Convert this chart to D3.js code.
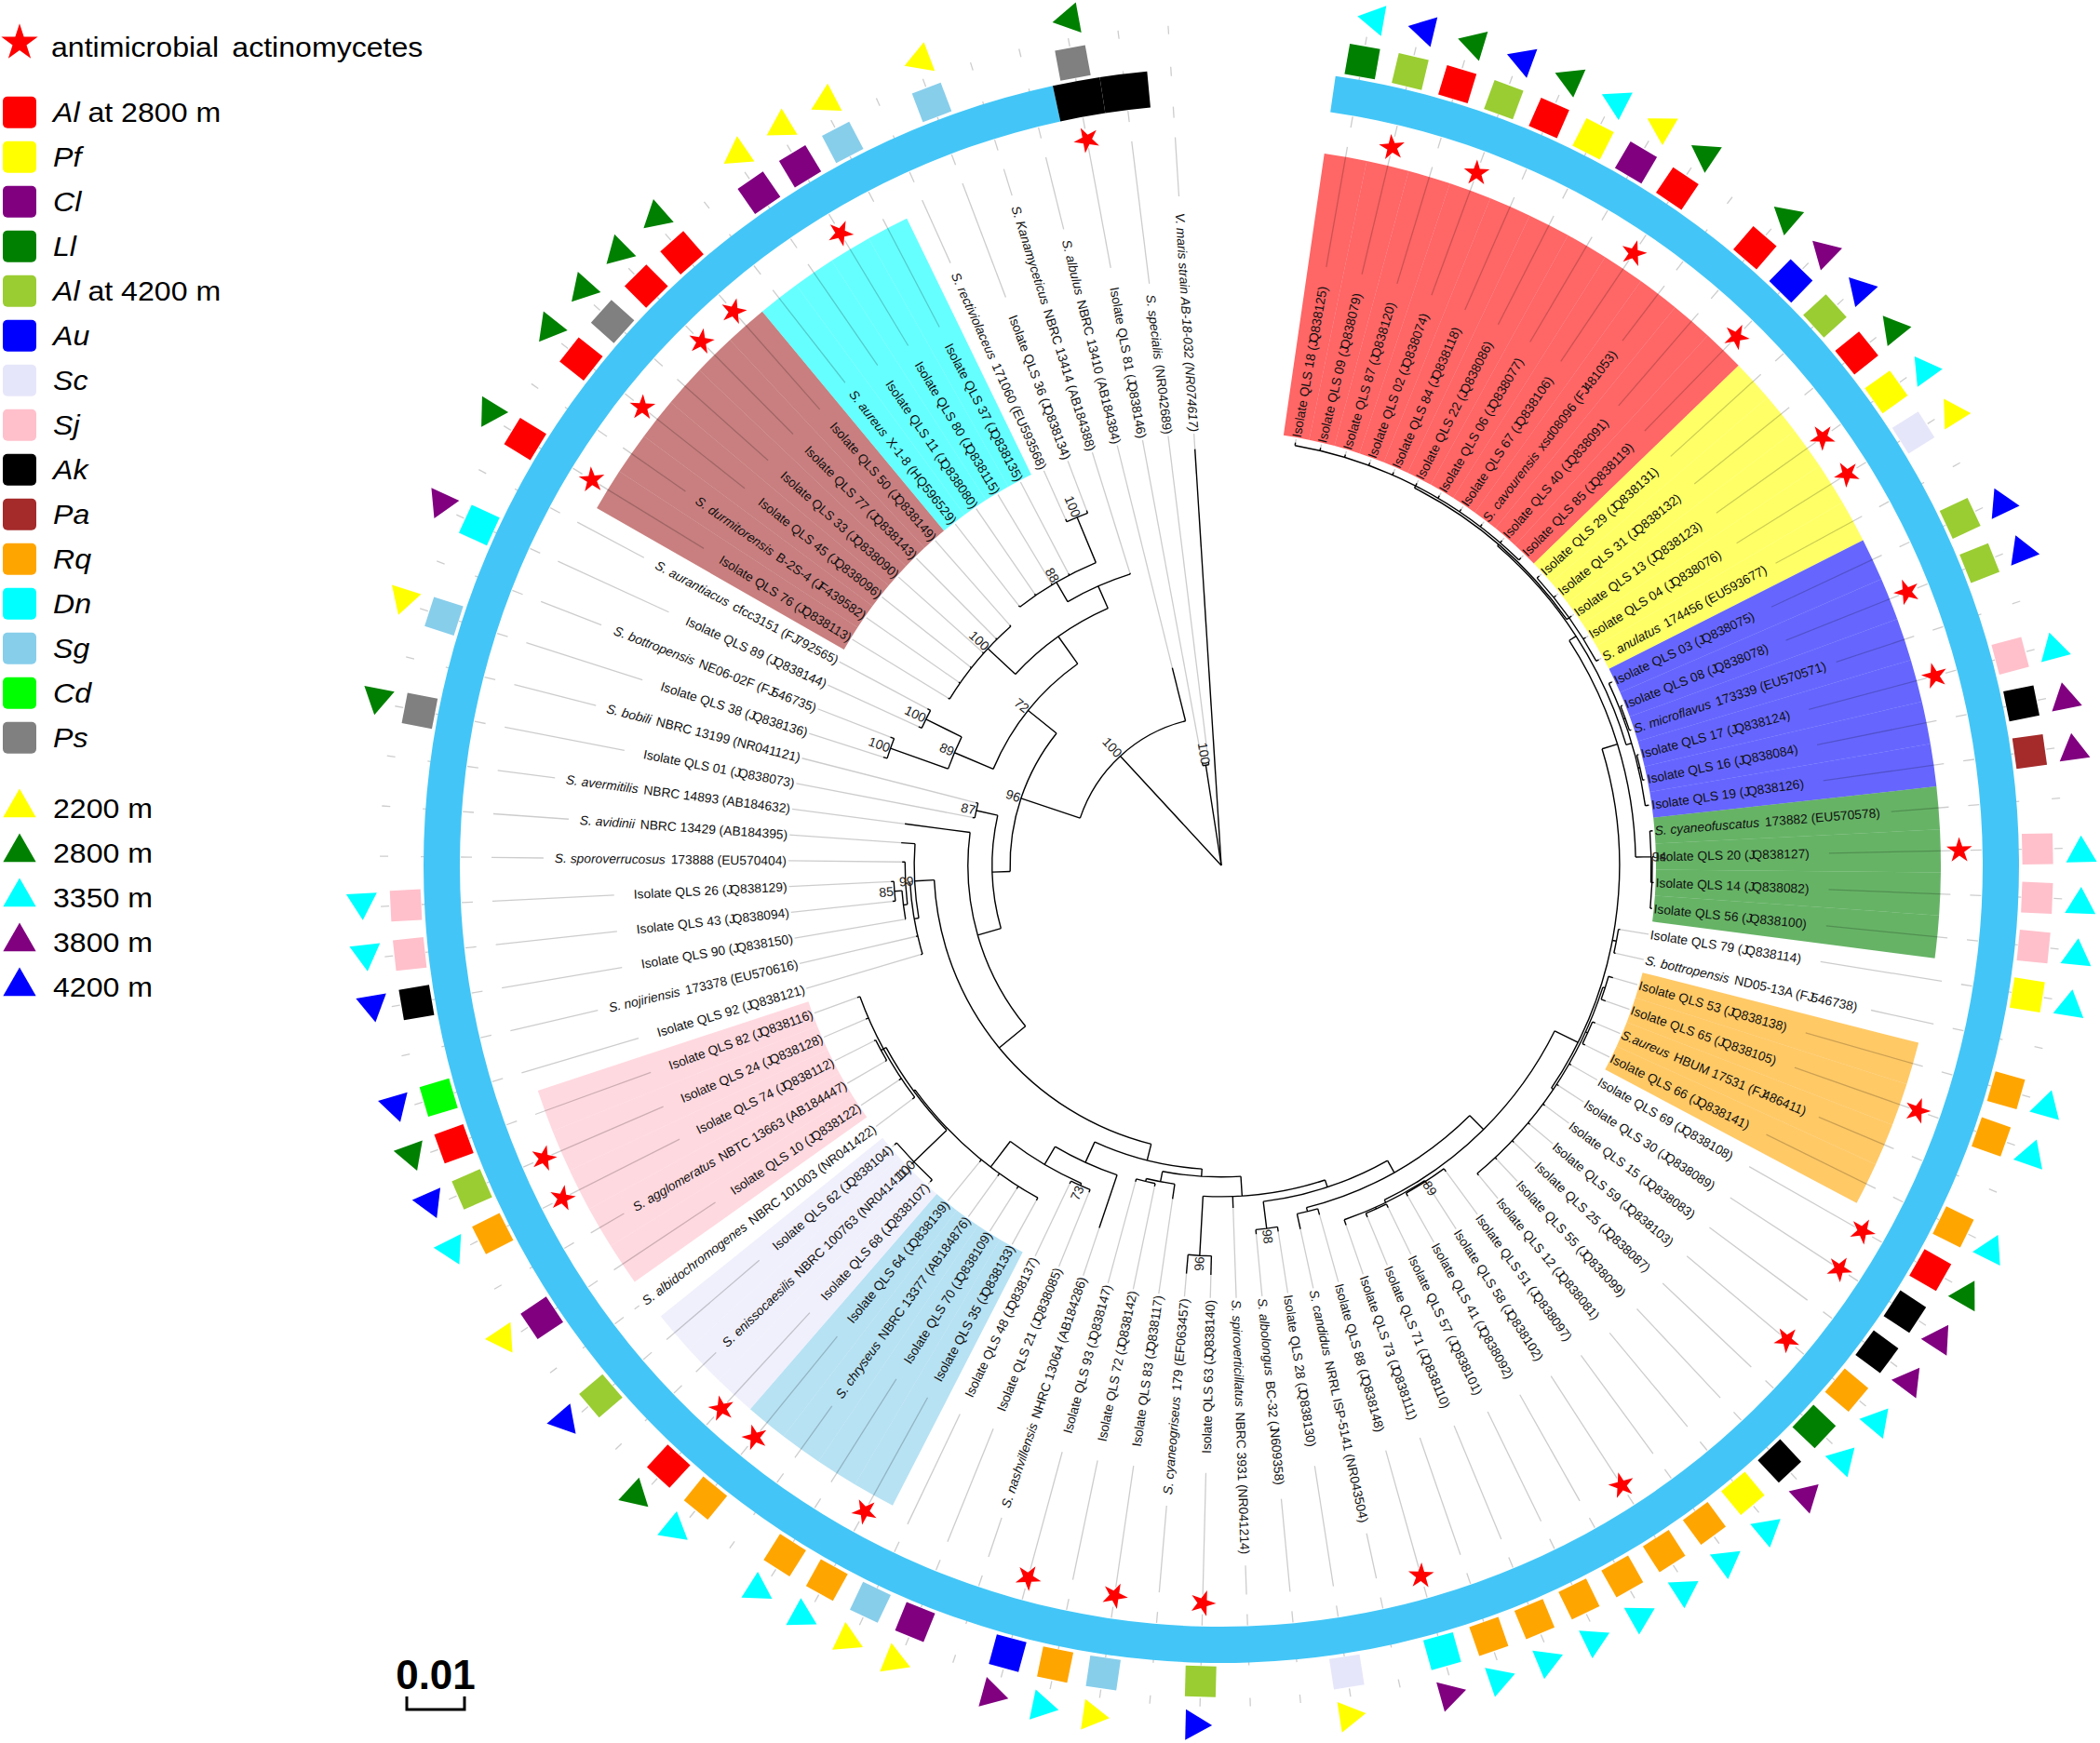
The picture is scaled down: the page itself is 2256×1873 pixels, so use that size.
<!DOCTYPE html>
<html>
<head>
<meta charset="utf-8">
<script src="https://cdn.jsdelivr.net/npm/d3@7"></script>
<style>
  html, body { margin: 0; padding: 0; background: #fff; }
  text { font-family: "Liberation Sans", Arial, sans-serif; }
</style>
</head>
<body>
<script>
// leaves run clockwise from the gap at the top, "|" splits italic part from the rest
const leafNames = [
  "Isolate QLS 18 (JQ838125)", "Isolate QLS 09 (JQ838079)", "Isolate QLS 87 (JQ838120)", "Isolate QLS 02 (JQ838074)",
  "Isolate QLS 84 (JQ838118)", "Isolate QLS 22 (JQ838086)", "Isolate QLS 06 (JQ838077)", "Isolate QLS 67 (JQ838106)",
  "S. cavourensis|xsd08096 (FJ481053)", "Isolate QLS 40 (JQ838091)", "Isolate QLS 85 (JQ838119)",
  "Isolate QLS 29 (JQ838131)", "Isolate QLS 31 (JQ838132)", "Isolate QLS 13 (JQ838123)", "Isolate QLS 04 (JQ838076)",
  "S. anulatus|174456 (EU593677)",
  "Isolate QLS 03 (JQ838075)", "Isolate QLS 08 (JQ838078)", "S. microflavus|173339 (EU570571)",
  "Isolate QLS 17 (JQ838124)", "Isolate QLS 16 (JQ838084)", "Isolate QLS 19 (JQ838126)",
  "S. cyaneofuscatus|173882 (EU570578)", "Isolate QLS 20 (JQ838127)", "Isolate QLS 14 (JQ838082)", "Isolate QLS 56 (JQ838100)",
  "Isolate QLS 79 (JQ838114)", "S. bottropensis|ND05-13A (FJ546738)",
  "Isolate QLS 53 (JQ838138)", "Isolate QLS 65 (JQ838105)", "S.aureus|HBUM 17531 (FJ486411)", "Isolate QLS 66 (JQ838141)",
  "Isolate QLS 69 (JQ838108)", "Isolate QLS 30 (JQ838089)", "Isolate QLS 15 (JQ838083)", "Isolate QLS 59 (JQ838103)",
  "Isolate QLS 25 (JQ838087)", "Isolate QLS 55 (JQ838099)", "Isolate QLS 12 (JQ838081)", "Isolate QLS 51 (JQ838097)",
  "Isolate QLS 58 (JQ838102)", "Isolate QLS 41 (JQ838092)", "Isolate QLS 57 (JQ838101)", "Isolate QLS 71 (JQ838110)",
  "Isolate QLS 73 (JQ838111)", "Isolate QLS 88 (JQ838148)", "S. candidus|NRRL ISP-5141 (NR043504)", "Isolate QLS 28 (JQ838130)",
  "S. albolongus|BC-32 (JN609358)", "S. spiroverticillatus|NBRC 3931 (NR041214)", "Isolate QLS 63 (JQ838140)",
  "S. cyaneogriseus|179 (EF063457)", "Isolate QLS 83 (JQ838117)", "Isolate QLS 72 (JQ838142)", "Isolate QLS 93 (JQ838147)",
  "S. nashvillensis|NHRC 13064 (AB184286)", "Isolate QLS 21 (JQ838085)", "Isolate QLS 48 (JQ838137)",
  "Isolate QLS 35 (JQ838133)", "Isolate QLS 70 (JQ838109)", "S. chryseus|NBRC 13377 (AB184876)", "Isolate QLS 64 (JQ838139)",
  "Isolate QLS 68 (JQ838107)", "S. enissocaesilis|NBRC 100763 (NR041411)", "Isolate QLS 62 (JQ838104)",
  "S. albidochromogenes|NBRC 101003 (NR041422)",
  "Isolate QLS 10 (JQ838122)", "S. agglomeratus|NBTC 13663 (AB184447)", "Isolate QLS 74 (JQ838112)",
  "Isolate QLS 24 (JQ838128)", "Isolate QLS 82 (JQ838116)",
  "Isolate QLS 92 (JQ838121)", "S. nojiriensis|173378 (EU570616)", "Isolate QLS 90 (JQ838150)", "Isolate QLS 43 (JQ838094)",
  "Isolate QLS 26 (JQ838129)", "S. sporoverrucosus|173888 (EU570404)", "S. avidinii|NBRC 13429 (AB184395)",
  "S. avermitilis|NBRC 14893 (AB184632)", "Isolate QLS 01 (JQ838073)", "S. bobili|NBRC 13199 (NR041121)",
  "Isolate QLS 38 (JQ838136)", "S. bottropensis|NE06-02F (FJ546735)", "Isolate QLS 89 (JQ838144)", "S. aurantiacus|cfcc3151 (FJ792565)",
  "Isolate QLS 76 (JQ838113)", "S. durmitorensis|B-2S-4 (JF439582)", "Isolate QLS 45 (JQ838096)", "Isolate QLS 33 (JQ838090)",
  "Isolate QLS 77 (JQ838143)", "Isolate QLS 50 (JQ838149)",
  "S. aureus|X-1-8 (HQ596529)", "Isolate QLS 11 (JQ838080)", "Isolate QLS 80 (JQ838115)", "Isolate QLS 37 (JQ838135)",
  "S. rectiviolaceus|171060 (EU593568)", "Isolate QLS 36 (JQ838134)", "S. Kanamyceticus|NBRC 13414 (AB184388)",
  "S. albulus|NBRC 13410 (AB184384)", "Isolate QLS 81 (JQ838146)", "S. specialis|(NR042689)", "V. maris strain AB-18-032 (NR074617)|"
];

const hostCodes = ["Al2", "Pf", "Cl", "Ll", "Al4", "Au", "Sc", "Sj", "Ak", "Pa", "Rq", "Dn", "Sg", "Cd", "Ps"];
const hostColors = ["#ff0000", "#ffff00", "#800080", "#008000", "#9acd32", "#0000ff", "#e6e6fa", "#ffc0cb",
  "#000000", "#a52a2a", "#ffa500", "#00ffff", "#87ceeb", "#00ff00", "#808080"];
const hostItalic = ["Al", "Pf", "Cl", "Ll", "Al", "Au", "Sc", "Sj", "Ak", "Pa", "Rq", "Dn", "Sg", "Cd", "Ps"];
const hostSuffix = [" at 2800 m", "", "", "", " at 4200 m", "", "", "", "", "", "", "", "", "", ""];

const altitudes = [2200, 2800, 3350, 3800, 4200];
const altitudeColors = ["#ffff00", "#008000", "#00ffff", "#800080", "#0000ff"];

// host plant per leaf, ten to a row
const leafHost = [
  "Ll", "Al4", "Al2", "Al4", "Al2", "Pf", "Cl", "Al2", "", "Al2",
  "Au", "Al4", "Al2", "Pf", "Sc", "", "Al4", "Al4", "", "Sj",
  "Ak", "Pa", "", "Sj", "Sj", "Sj", "Pf", "", "Rq", "Rq",
  "", "Rq", "Al2", "Ak", "Ak", "Rq", "Ll", "Ak", "Pf", "Rq",
  "Rq", "Rq", "Rq", "Rq", "Rq", "Dn", "", "Sc", "", "",
  "Al4", "", "Sg", "Rq", "Au", "", "Cl", "Sg", "Rq", "Rq",
  "", "Rq", "Al2", "", "Al4", "", "Cl", "", "Rq", "Al4",
  "Al2", "Cd", "", "Ak", "Sj", "Sj", "", "", "", "Ps",
  "", "Sg", "", "Dn", "", "Al2", "", "Al2", "Ps", "Al2",
  "Al2", "", "Cl", "Cl", "Sg", "", "Sg", "", "", "Ps",
  "", ""
];

// sampling altitude per leaf, 0 = none
const leafAltitude = [
  3350, 4200, 2800, 4200, 2800, 3350, 2200, 2800, 0, 2800,
  3800, 4200, 2800, 3350, 2200, 0, 4200, 4200, 0, 3350,
  3800, 3800, 0, 3350, 3350, 3350, 3350, 0, 3350, 3350,
  0, 3350, 2800, 3800, 3800, 3350, 3350, 3800, 3350, 3350,
  3350, 3350, 3350, 3350, 3350, 3800, 0, 2200, 0, 0,
  4200, 0, 2200, 3350, 3800, 0, 2200, 2200, 3350, 3350,
  0, 3350, 2800, 0, 4200, 0, 2200, 0, 3350, 4200,
  2800, 4200, 0, 4200, 3350, 3350, 0, 0, 0, 2800,
  0, 2200, 0, 3800, 0, 2800, 0, 2800, 2800, 2800,
  2800, 0, 2200, 2200, 2200, 0, 2200, 0, 0, 2800,
  0, 0
];

const antimicrobial = [2, 4, 8, 11, 14, 15, 18, 20, 24, 30, 33, 34, 36, 41, 46, 51, 53, 55, 59, 62, 63,
  69, 70, 86, 88, 90, 91, 94, 100];

// coloured clade backgrounds
const cladeFirst = [1, 12, 17, 23, 29, 59, 63, 67, 86, 92];
const cladeLast = [11, 16, 22, 26, 32, 62, 65, 71, 91, 95];
const cladeColor = ["#ff0000", "#ffff00", "#0000ff", "#008000", "#ffa500", "#87ceeb", "#e6e6fa", "#ffc0cb", "#a52a2a", "#00ffff"];

// ring is blue up to leaf 99, then one black cell each for leaves 100 and 101
const ringBlueLast = 99;
const ringBlackLeaves = [100, 101];

// tree: dist is the distance from the root in substitutions per site
const tip = (n, dist) => ({ leaf: n, dist });
const tips = (dist, ns) => ns.map(n => tip(n, dist));
const clade = (dist, kids, boot, at) => ({ dist, kids, boot, at });

const upperRight = clade(.0718, [
  clade(.0745, [tip(23, .0750), clade(.0747, tips(.0750, [24, 25, 26]))], "94"),
  clade(.0732, [
    clade(.0735, [
      clade(.0739, tips(.0744, [1, 2, 3, 4, 5, 6, 7, 8, 9, 10, 11])),
      clade(.0740, tips(.0745, [12, 13, 14, 15, 16]))
    ]),
    clade(.0742, [
      tip(17, .0748),
      clade(.0745, tips(.0748, [18, 19])),
      clade(.0745, tips(.0748, [20, 21])),
      tip(22, .0748)
    ])
  ])
]);

const lowerRight = clade(.0645, [
  clade(.0650, [
    tip(45, .0660),
    clade(.0653, tips(.0660, [44, 43])),
    clade(.0652, tips(.0658, [42, 41, 40]), "89")
  ]),
  clade(.0690, [
    upperRight,
    clade(.0697, tips(.0700, [27, 28])),
    clade(.0694, [
      clade(.0698, tips(.0706, [29, 30])),
      clade(.0698, tips(.0703, [31, 32])),
      ...tips(.0698, [33, 34, 35, 36, 37, 38, 39])
    ])
  ], null, 116.4)
]);

const bottomClade = clade(.0574, [
  clade(.0677, tips(.0710, [52, 51]), "96"),
  tip(50, .0594),
  clade(.0587, [
    clade(.0634, tips(.0642, [49, 48]), "98"),
    clade(.0611, [
      clade(.0618, [tip(47, .0645), tip(46, .0629)]),
      lowerRight
    ])
  ])
], null, 176.4);

const leftBottomClade = clade(.0527, [
  clade(.0566, [
    tip(56, .0663),
    clade(.0602, [
      clade(.0658, [
        ...tips(.0663, [59, 60, 61, 62]),
        clade(.0661, [
          clade(.0740, tips(.0745, [63, 64, 65]), "100"),
          clade(.0666, [
            tip(66, .0671), tip(67, .0671),
            clade(.0671, tips(.0674, [68, 69])),
            tip(70, .0671), tip(71, .0671)
          ])
        ])
      ], null, 217.4),
      clade(.0606, tips(.0611, [58, 57]), "73")
    ])
  ]),
  clade(.0540, [
    clade(.0558, [clade(.0563, tips(.0568, [55, 54])), tip(53, .0584)]),
    bottomClade
  ])
]);

const treeData = clade(0, [
  clade(.0176, tips(.0181, [100, 101]), "100"),
  tip(102, .0723),
  clade(.0258, [
    tip(99, .0353),
    clade(.0366, [
      clade(.0397, [
        clade(.0435, tips(.0439, [80, 81]), "87"),
        clade(.0439, [
          tip(79, .0553),
          clade(.0498, [
            clade(.0532, [
              tip(78, .0556),
              clade(.0540, [
                clade(.0548, [
                  tip(77, .0553),
                  clade(.0555, [clade(.0568, tips(.0573, [76, 75]), "85"), tip(74, .0556)])
                ]),
                tip(73, .0543), tip(72, .0543)
              ])
            ], "99"),
            leftBottomClade
          ])
        ])
      ]),
      clade(.0429, [
        clade(.0502, [
          clade(.0608, tips(.0615, [82, 83]), "100"),
          clade(.0571, tips(.0577, [84, 85]), "100")
        ], "89"),
        clade(.0487, [
          clade(.0552, tips(.0555, [86, 87, 88, 89, 90, 91]), "100", 312.9),
          clade(.0529, [
            clade(.0568, [
              ...tips(.0571, [92, 93, 94, 95]),
              clade(.0653, tips(.0658, [96, 97]), "100")
            ], "88"),
            tip(98, .0531)
          ])
        ])
      ], "72")
    ], "96")
  ], "100")
]);

const width = 2256, height = 1873;
const cx = 1312, cy = 930;

const angle = d3.scaleLinear().domain([1, 102]).range([9.95, 356.38]);
const radius = d3.scaleLinear().domain([0, 0.01]).range([0, 62]);
const step = angle(2) - angle(1);
const rad = d => d * Math.PI / 180;

const labelR = 467, cladeOuter = 773, ringInner = 818, ringOuter = 857;
const squareR = 877, squareSize = 33, triangleR = 924, starR = 793;

const svg = d3.select("body").append("svg")
  .attr("width", width)
  .attr("height", height)
  .style("display", "block")
  .style("background", "#fff");

const plot = svg.append("g").attr("transform", `translate(${cx},${cy})`);
const leaves = leafNames.map((name, i) => ({ n: i + 1, name, a: angle(i + 1) }));
const placed = (a, r) => `rotate(${a}) translate(0,${-r})`;

// clade backgrounds, one slice per leaf
const slice = d3.arc();
const cladeLeaves = leaves.flatMap(l => {
  const k = cladeFirst.findIndex((f, i) => l.n >= f && l.n <= cladeLast[i]);
  return k < 0 ? [] : [{ ...l, color: cladeColor[k] }];
});
plot.append("g").selectAll("path").data(cladeLeaves).join("path")
  .attr("d", d => slice({
    innerRadius: labelR,
    outerRadius: cladeOuter,
    startAngle: rad(d.a - step / 2),
    endAngle: rad(d.a + step / 2)
  }))
  .attr("fill", d => d.color)
  .attr("fill-opacity", 0.6);

// guide lines go under the labels and the ring
const guides = plot.append("g");

// outer ring
const ring = plot.append("g");
ring.append("path")
  .attr("d", slice({
    innerRadius: ringInner,
    outerRadius: ringOuter,
    startAngle: rad(angle(1) - step / 2),
    endAngle: rad(angle(ringBlueLast) + step / 2)
  }))
  .attr("fill", "#43c6f7");
ring.selectAll("path.black").data(ringBlackLeaves).join("path")
  .attr("class", "black")
  .attr("d", n => slice({
    innerRadius: ringInner,
    outerRadius: ringOuter,
    startAngle: rad(angle(n) - step / 2),
    endAngle: rad(angle(n) + step / 2)
  }))
  .attr("fill", "#000");

// host plant squares
plot.append("g").selectAll("rect").data(leaves.filter(l => leafHost[l.n - 1])).join("rect")
  .attr("transform", d => placed(d.a, squareR))
  .attr("x", -squareSize / 2)
  .attr("y", -squareSize / 2)
  .attr("width", squareSize)
  .attr("height", squareSize)
  .attr("fill", d => hostColors[hostCodes.indexOf(leafHost[d.n - 1])]);

// altitude triangles, sitting a little clockwise of their leaf
const triangle = d3.symbol().type(d3.symbolTriangle).size(471);
plot.append("g").selectAll("path").data(leaves.filter(l => leafAltitude[l.n - 1])).join("path")
  .attr("d", triangle)
  .attr("transform", d => placed(d.a, triangleR) + " translate(5.5,0) rotate(-90)")
  .attr("fill", d => altitudeColors[altitudes.indexOf(leafAltitude[d.n - 1])]);

// antimicrobial stars
const star = d3.symbol().type(d3.symbolStar).size(236);
plot.append("g").selectAll("path").data(antimicrobial).join("path")
  .attr("d", star)
  .attr("transform", n => placed(angle(n), starR) + " rotate(-90)")
  .attr("fill", "#ff0000");

// leaf labels, the accession numbers squeeze up after each J like the original
const labels = plot.append("g").selectAll("text").data(leaves).join("text")
  .attr("transform", d => placed(d.a, labelR) + (d.a < 180 ? " rotate(-90)" : " rotate(90)"))
  .attr("text-anchor", d => d.a < 180 ? "start" : "end")
  .attr("dy", "0.35em")
  .attr("font-size", 13.8)
  .attr("fill", "#111");
labels.each(function (d) {
  const [italic, rest] = d.name.includes("|") ? d.name.split("|") : [null, d.name];
  const t = d3.select(this);
  if (italic) t.append("tspan").attr("font-style", "italic").text(italic);
  if (rest) {
    rest.split(/(?<=\(\w?J)/).forEach((piece, i) => {
      t.append("tspan").attr("dx", i ? -3 : (italic ? 6 : 0)).text(piece);
    });
  }
  d.labelEnd = labelR + this.getComputedTextLength();
});

const root = d3.hierarchy(treeData, d => d.kids);
root.eachAfter(node => {
  node.r = radius(node.data.dist);
  if (node.children) {
    const kids = node.children.map(k => k.a);
    const low = d3.min(kids), high = d3.max(kids);
    node.a = node.data.at !== undefined && node.data.at !== null ? node.data.at : (low + high) / 2;
    node.lo = Math.min(low, node.a);
    node.hi = Math.max(high, node.a);
  } else {
    node.a = angle(node.data.leaf);
  }
});

// gray leaf guides, from the tip to the label and on past it
const guideDashes = [[805, 817], [850, 860], [895, 904]];
const tipOf = new Map(root.leaves().map(l => [l.data.leaf, l.r]));
const guideSegments = leaves.flatMap(l => [
  { a: l.a, r0: tipOf.get(l.n), r1: labelR - 2 },
  { a: l.a, r0: l.labelEnd + 18, r1: 784 },
  ...guideDashes.map(([r0, r1]) => ({ a: l.a, r0, r1 }))
]);
guides.selectAll("line").data(guideSegments).join("line")
  .attr("transform", d => `rotate(${d.a})`)
  .attr("y1", d => -d.r0)
  .attr("y2", d => -d.r1)
  .attr("stroke", "#000")
  .attr("stroke-opacity", 0.2)
  .attr("stroke-width", 1.3);

// tree branches: one radial piece per node, one arc per internal node
const branch = node => {
  const p = d3.path();
  const t = rad(node.a - 90);
  if (node.parent) {
    p.moveTo(node.parent.r * Math.cos(t), node.parent.r * Math.sin(t));
    p.lineTo(node.r * Math.cos(t), node.r * Math.sin(t));
  }
  if (node.children && node.r > 0) {
    const t0 = rad(node.lo - 90);
    p.moveTo(node.r * Math.cos(t0), node.r * Math.sin(t0));
    p.arc(0, 0, node.r, t0, rad(node.hi - 90));
  }
  return p.toString();
};
plot.append("g").selectAll("path").data(root.descendants()).join("path")
  .attr("d", branch)
  .attr("fill", "none")
  .attr("stroke", "#000")
  .attr("stroke-width", 1.4);

// bootstrap values
plot.append("g").selectAll("text").data(root.descendants().filter(n => n.data.boot)).join("text")
  .attr("transform", d => placed(d.a, d.r + 1) + (d.a < 180 ? " rotate(-90)" : " rotate(90)"))
  .attr("text-anchor", d => d.a < 180 ? "start" : "end")
  .attr("dy", "0.35em")
  .attr("font-size", 14)
  .attr("fill", "#222")
  .text(d => d.data.boot);

// legend
const legend = svg.append("g");
const legendText = (sel, x, y) => sel.append("text")
  .attr("transform", `translate(${x},${y}) scale(1.07,1)`)
  .attr("font-size", 30)
  .attr("fill", "#000");

legend.append("path")
  .attr("d", d3.symbol().type(d3.symbolStar).size(480))
  .attr("transform", "translate(21,46)")
  .attr("fill", "#ff0000");
legendText(legend, 55, 61).attr("word-spacing", 5).text("antimicrobial actinomycetes");

const hostRow = d3.scaleLinear().domain([0, 1]).range([120.7, 168.7]);
const hostRows = legend.append("g").selectAll("g").data(hostCodes).join("g")
  .attr("transform", (d, i) => `translate(0,${hostRow(i)})`);
hostRows.append("rect")
  .attr("x", 3)
  .attr("y", -17)
  .attr("width", 36)
  .attr("height", 34)
  .attr("rx", 5)
  .attr("fill", (d, i) => hostColors[i]);
hostRows.each(function (d, i) {
  const t = legendText(d3.select(this), 57, 10);
  t.append("tspan").attr("font-style", "italic").text(hostItalic[i]);
  if (hostSuffix[i]) t.append("tspan").text(hostSuffix[i]);
});

const altRow = d3.scaleLinear().domain([0, 1]).range([865, 913]);
const altRows = legend.append("g").selectAll("g").data(altitudes).join("g")
  .attr("transform", (d, i) => `translate(0,${altRow(i)})`);
altRows.append("path")
  .attr("d", d3.symbol().type(d3.symbolTriangle).size(540))
  .attr("transform", "translate(21,3)")
  .attr("fill", (d, i) => altitudeColors[i]);
altRows.each(function (d) {
  legendText(d3.select(this), 57, 14).text(d + " m");
});

// scale bar
const barX = 437, barY = 1837, barLen = radius(0.01);
svg.append("text")
  .attr("x", barX + barLen / 2)
  .attr("y", 1815)
  .attr("text-anchor", "middle")
  .attr("font-size", 44)
  .attr("font-weight", "bold")
  .attr("fill", "#000")
  .text("0.01");
svg.append("path")
  .attr("d", `M${barX},${barY - 14}V${barY}H${barX + barLen}V${barY - 14}`)
  .attr("fill", "none")
  .attr("stroke", "#000")
  .attr("stroke-width", 3);
</script>
</body>
</html>
